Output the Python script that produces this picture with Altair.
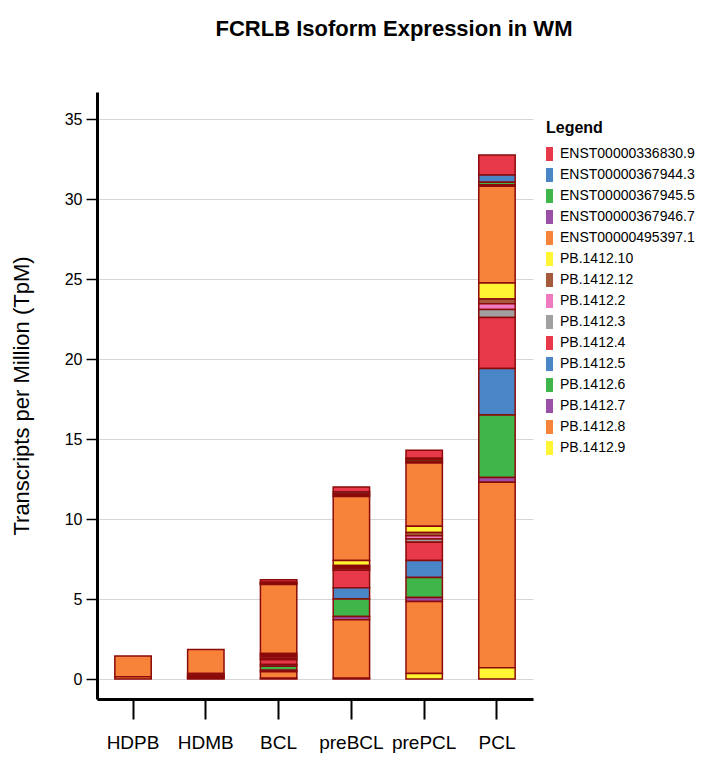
import altair as alt
import pandas as pd

samples = ["HDPB", "HDMB", "BCL", "preBCL", "prePCL", "PCL"]
isoforms = ["ENST00000336830.9", "ENST00000367944.3", "ENST00000367945.5",
            "ENST00000367946.7", "ENST00000495397.1", "PB.1412.10", "PB.1412.12",
            "PB.1412.2", "PB.1412.3", "PB.1412.4", "PB.1412.5", "PB.1412.6",
            "PB.1412.7", "PB.1412.8", "PB.1412.9"]
colors = ["#E8394A", "#4A86C5", "#3FB54A", "#9A4FA8", "#F7823A", "#FFF533",
          "#A65A3C", "#F07ABF", "#A0A0A0", "#E8394A", "#4A86C5", "#3FB54A",
          "#9A4FA8", "#F7823A", "#FFF533"]

# TpM values per sample, in legend (isoform) order
hdpb = [0, 0, 0, 0, 1.3, 0, 0, 0, 0, 0, 0, 0, 0, 0.14, 0]
hdmb = [0, 0, 0, 0, 1.5, 0, 0.12, 0.04, 0.04, 0.08, 0, 0.03, 0.04, 0, 0]
bcl = [0.15, 0.05, 0.05, 0.05, 4.3, 0.1, 0.1, 0.1, 0.1, 0.3, 0.1, 0.25, 0.1, 0.4, 0.05]
prebcl = [0.3, 0.1, 0.1, 0.1, 4.0, 0.3, 0.1, 0.1, 0.1, 1.1, 0.7, 1.1, 0.2, 3.65, 0.05]
prepcl = [0.5, 0.1, 0.1, 0.1, 3.95, 0.4, 0.2, 0.2, 0.2, 1.15, 1.05, 1.25, 0.25, 4.5, 0.35]
pcl = [1.25, 0.45, 0.15, 0.1, 6.05, 1.0, 0.3, 0.35, 0.5, 3.2, 2.9, 3.9, 0.3, 11.6, 0.7]

y_ticks = [0, 5, 10, 15, 20, 25, 30, 35]

rows = []
for s, vals in zip(samples, [hdpb, hdmb, bcl, prebcl, prepcl, pcl]):
    for i, (iso, v) in enumerate(zip(isoforms, vals)):
        if v > 0:
            rows.append({"sample": s, "isoform": iso, "rank": i, "tpm": v})
df = pd.DataFrame(rows)

FONT = "Liberation Sans, Arial, sans-serif"

chart = alt.Chart(df).mark_bar(stroke="#8B0A0A", strokeWidth=1.5).encode(
    x=alt.X("sample:N", sort=samples,
            scale=alt.Scale(paddingInner=0.5, paddingOuter=0.245),
            axis=alt.Axis(title=None, labelAngle=0, grid=False,
                          domainColor="black", domainWidth=3,
                          tickColor="black", tickWidth=2, tickSize=20,
                          labelFontSize=19, labelPadding=14, labelColor="black",
                          labelFont=FONT)),
    y=alt.Y("tpm:Q", stack="zero",
            scale=alt.Scale(domain=[-1.25, 36.69], nice=False, zero=False),
            axis=alt.Axis(title="Transcripts per Million (TpM)", values=y_ticks,
                          grid=True, gridColor="#d6d6d6", gridWidth=1.2,
                          domainColor="black", domainWidth=3,
                          tickColor="black", tickWidth=1.5, tickSize=11,
                          labelFontSize=16, labelPadding=4, labelColor="black",
                          labelFont=FONT, titleFont=FONT, titleFontSize=22,
                          titleFontWeight="normal", titleColor="black",
                          titleX=-76, titleBaseline="middle")),
    color=alt.Color("isoform:N",
                    scale=alt.Scale(domain=isoforms, range=colors),
                    legend=alt.Legend(title="Legend", orient="none",
                                      legendX=449, legendY=28,
                                      titleFont=FONT, titleFontSize=16,
                                      titleFontWeight="bold", titleColor="black",
                                      titlePadding=11,
                                      labelFont=FONT, labelFontSize=14,
                                      labelColor="black", labelOffset=0,
                                      labelLimit=0,
                                      symbolType="M-1,-1H0V1H-1Z",
                                      symbolSize=196, symbolStrokeWidth=0,
                                      symbolOpacity=1, rowPadding=7)),
    order=alt.Order("rank:Q", sort="descending"),
).properties(
    width=436, height=607,
    title=alt.TitleParams("FCRLB Isoform Expression in WM", anchor="middle",
                          frame="group", dx=79, offset=51, font=FONT,
                          fontSize=22, fontWeight="bold", color="black"),
    autosize=alt.AutoSizeParams(type="none"),
    padding={"left": 89, "top": 84, "right": 180, "bottom": 54},
).configure_view(stroke=None)

chart.save("out.html", embed_options={"renderer": "svg", "actions": False})
